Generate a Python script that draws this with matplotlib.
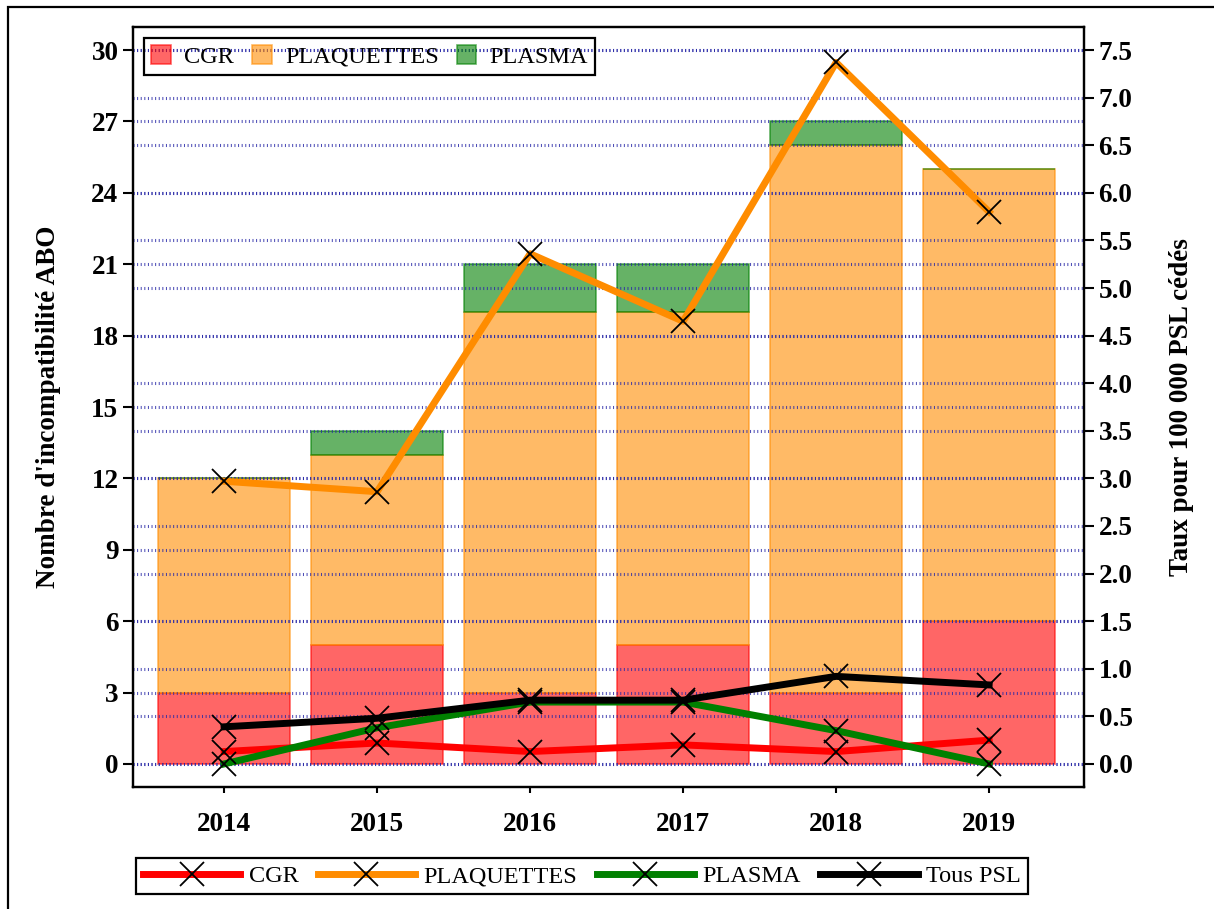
import numpy as np
import matplotlib
matplotlib.use('Agg')
import matplotlib.pyplot as plt
from matplotlib.patches import Rectangle
from matplotlib.lines import Line2D

plt.rcParams['font.family'] = ['Liberation Serif', 'DejaVu Serif']

# data
years = ['2014', '2015', '2016', '2017', '2018', '2019']
n_cgr = [3, 5, 3, 5, 3, 6]
n_plaq = [9, 8, 16, 14, 23, 19]
n_plasma = [0, 1, 2, 2, 1, 0]

# taux pour 100 000 PSL cedes
taux_cgr = [0.13, 0.22, 0.13, 0.20, 0.13, 0.25]
taux_plaq = [2.97, 2.86, 5.36, 4.65, 7.37, 5.80]
taux_plasma = [0.00, 0.38, 0.65, 0.65, 0.35, 0.00]
taux_tous = [0.39, 0.48, 0.67, 0.67, 0.92, 0.83]

x = np.arange(len(years))
cgr = np.array(n_cgr)
plaq = np.array(n_plaq)
plasma = np.array(n_plasma)

fig = plt.figure(figsize=(12.14, 9.09), dpi=100)
ax = fig.add_axes([0.1096, 0.1342, 0.7833, 0.8361])
ax2 = ax.twinx()

w = 0.86
ax.bar(x, cgr, w, color='red', alpha=0.6, edgecolor='red', linewidth=1.2, label='CGR')
ax.bar(x, plaq, w, bottom=cgr, color='darkorange', alpha=0.6, edgecolor='darkorange',
       linewidth=1.2, label='PLAQUETTES')
ax.bar(x, plasma, w, bottom=cgr + plaq, color='green', alpha=0.6, edgecolor='green',
       linewidth=1.2, label='PLASMA')

ax.set_xlim(-0.595, 5.62)
ax.set_ylim(-0.97, 30.97)
ax2.set_ylim(-0.97 / 4, 30.97 / 4)
ax.set_yticks(np.arange(0, 31, 3))
ax2.set_yticks(np.arange(0, 7.6, 0.5))
ax2.set_yticklabels([f'{v:.1f}' for v in np.arange(0, 7.6, 0.5)])
ax.set_xticks(x)
ax.set_xticklabels(years)

# fine dotted grid (short vertical dashes)
grid_kw = dict(color='#2a2aa8', linestyle=(0, (0.33, 0.85)), linewidth=2.2, alpha=0.85)
ax.grid(axis='y', **grid_kw)
ax2.grid(axis='y', **grid_kw)
ax.set_axisbelow(False)

series = [(taux_cgr, 'red', 'CGR'), (taux_plaq, 'darkorange', 'PLAQUETTES'),
          (taux_plasma, 'green', 'PLASMA'), (taux_tous, 'black', 'Tous PSL')]
handles = []
for vals, col, lab in series:
    ax2.plot(x, vals, color=col, lw=5, zorder=3)
    ax2.plot(x, vals, ls='none', marker='x', ms=17, mew=1.3, color='black', zorder=4)
    handles.append(Line2D([], [], color=col, lw=5, marker='x', ms=17, mew=1.3,
                          markeredgecolor='black', label=lab))

for a in (ax, ax2):
    for s in a.spines.values():
        s.set_linewidth(1.6)
    a.tick_params(length=7, width=1.5, labelsize=19.5)
    for lbl in a.get_xticklabels() + a.get_yticklabels():
        lbl.set_fontweight('bold')
ax.tick_params(axis='x', length=4, pad=14)

ax.set_ylabel("Nombre d'incompatibilité ABO", fontsize=19.5, fontweight='bold', labelpad=22)
ax2.set_ylabel('Taux pour 100 000 PSL cédés', fontsize=19.5, fontweight='bold', labelpad=26)

bh, bl = ax.get_legend_handles_labels()
leg1 = ax2.legend(bh, bl, loc='upper left', ncol=3, fontsize=17.5, frameon=True, fancybox=False,
                  edgecolor='black', facecolor='none', framealpha=1, handlelength=0.8,
                  handleheight=0.8, handletextpad=0.55, columnspacing=0.75,
                  borderaxespad=0.45, borderpad=0.3)
leg1.get_frame().set_linewidth(1.6)

leg2 = fig.legend(handles=handles, loc='center', bbox_to_anchor=(582 / 1214, 1 - 876 / 909),
                  ncol=4, fontsize=17.5, frameon=True, fancybox=False, edgecolor='black',
                  framealpha=1, handlelength=4.0, handletextpad=0.35, columnspacing=0.8,
                  borderpad=0.3)
leg2.get_frame().set_linewidth(1.6)

# outer frame
fig.patches.append(Rectangle((8 / 1214, -0.1), 1.2, 1.1 - 7 / 909, transform=fig.transFigure,
                             fill=False, edgecolor='black', linewidth=1.6))

fig.savefig('out.png', dpi=100)
